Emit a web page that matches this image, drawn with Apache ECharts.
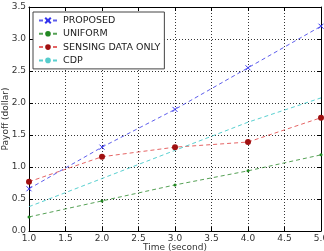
<!DOCTYPE html>
<html><head><meta charset="utf-8">
<script src="https://cdn.jsdelivr.net/npm/echarts@6/dist/echarts.min.js"></script>
<style>html,body{margin:0;padding:0;background:#fff}#c{width:324px;height:251px}</style>
</head><body><div id="c"></div>
<script>
const times = [1.0, 2.0, 3.0, 4.0, 5.0];
const proposed = [0.66, 1.31, 1.90, 2.55, 3.20];
const uniform = [0.22, 0.47, 0.72, 0.94, 1.19];
const sensingOnly = [0.77, 1.16, 1.31, 1.39, 1.77];
const cdp = [0.38, 0.82, 1.26, 1.70, 2.08];
const xTicks = [1.0, 1.5, 2.0, 2.5, 3.0, 3.5, 4.0, 4.5, 5.0];
const yTicks = [0.0, 0.5, 1.0, 1.5, 2.0, 2.5, 3.0, 3.5];

const font = 'DejaVu Sans';
const pair = a => times.map((t, i) => [t, a[i]]);
const axisBase = {
  type: 'value', interval: 0.5,
  axisLine: {show: true, onZero: false, lineStyle: {color: '#000', width: 1}},
  axisTick: {show: true, inside: true, length: 4, lineStyle: {color: '#000'}},
  splitLine: {show: false}
};
const chart = echarts.init(document.getElementById('c'), null, {renderer: 'canvas'});
chart.setOption({
  animation: false,
  grid: {left: 29, right: 3, top: 7, bottom: 20, containLabel: false, outerBoundsMode: 'none'},
  xAxis: [
    Object.assign({}, axisBase, {min: 1, max: 5, position: 'bottom',
      splitLine: {show: true, lineStyle: {color: '#000', type: [1, 2], width: 0.8}},
      axisLabel: {fontFamily: font, fontSize: 9, color: '#333', margin: 3, hideOverlap: false,
        formatter: v => xTicks.includes(+v.toFixed(1)) ? v.toFixed(1) : ''},
      name: 'Time (second)', nameLocation: 'middle', nameGap: 12, nameMoveOverlap: false,
      nameTextStyle: {fontFamily: font, fontSize: 9, color: '#333'}}),
    Object.assign({}, axisBase, {min: 1, max: 5, position: 'top', axisLabel: {show: false}})
  ],
  yAxis: [
    Object.assign({}, axisBase, {min: 0, max: 3.5, position: 'left',
      splitLine: {show: true, lineStyle: {color: '#000', type: [1, 2], width: 0.8}},
      axisLabel: {fontFamily: font, fontSize: 9, color: '#333', margin: 3, hideOverlap: false,
        formatter: v => yTicks.includes(+v.toFixed(1)) ? v.toFixed(1) : ''},
      name: 'Payoff (dollar)', nameLocation: 'middle', nameGap: 19, nameRotate: 90, nameMoveOverlap: false,
      nameTextStyle: {fontFamily: font, fontSize: 9, color: '#333'}}),
    Object.assign({}, axisBase, {min: 0, max: 3.5, position: 'right', axisLabel: {show: false}})
  ],
  legend: {
    left: 33, top: 12, orient: 'vertical',
    backgroundColor: '#fff', borderColor: '#444', borderWidth: 1, borderRadius: 0,
    padding: [3, 4, 3, 5], itemGap: 2.3, itemWidth: 18, itemHeight: 7,
    textStyle: {fontFamily: font, fontSize: 9.5, lineHeight: 11, color: '#222', padding: [0, 0, 0, 1]},
    data: ['PROPOSED', 'UNIFORM', 'SENSING DATA ONLY', 'CDP']
  },
  series: [
    {name: 'PROPOSED', type: 'line', data: pair(proposed), symbol: 'path://M0,0L10,10M10,0L0,10', symbolSize: 5,
      itemStyle: {color: '#3333ee', borderColor: '#3333ee', borderWidth: 1},
      lineStyle: {color: 'rgba(40,40,230,0.75)', width: 1, type: [4, 3]}, z: 5},
    {name: 'UNIFORM', type: 'line', data: pair(uniform), symbol: 'circle', symbolSize: 3,
      itemStyle: {color: '#228822'},
      lineStyle: {color: 'rgba(30,130,30,0.75)', width: 1, type: [4, 3]}},
    {name: 'SENSING DATA ONLY', type: 'line', data: pair(sensingOnly), symbol: 'circle', symbolSize: 6,
      itemStyle: {color: '#a01010'},
      lineStyle: {color: 'rgba(220,50,50,0.75)', width: 1, type: [4, 3]}},
    {name: 'CDP', type: 'line', data: pair(cdp), symbol: 'none',
      itemStyle: {color: '#55cccc'},
      lineStyle: {color: 'rgba(60,200,200,0.85)', width: 1, type: [4, 3]}}
  ]
});
</script></body></html>
